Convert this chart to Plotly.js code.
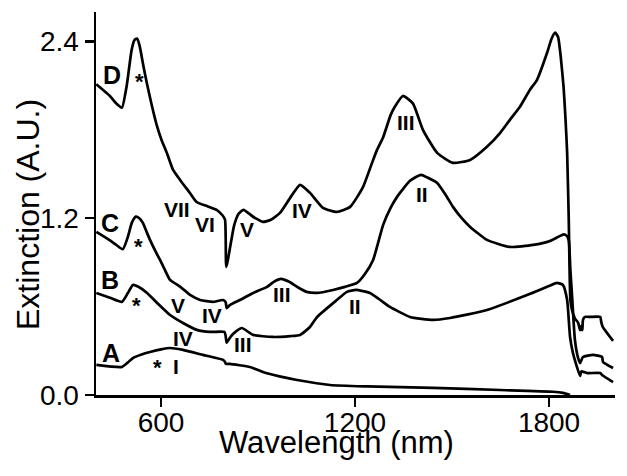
<!DOCTYPE html>
<html><head><meta charset="utf-8">
<script src="https://cdn.plot.ly/plotly-3.0.1.min.js"></script>
<style>html,body{margin:0;padding:0;background:#fff}</style>
</head><body>
<div id="chart" style="width:627px;height:476px"></div>
<script>
// Spectrum A
const wlA  = [400,479,497,513,540,566,600,628,668,730,792,798,801,813,875,915,970,1021,1123,1237,1441,1649,1812,1843,1865];
const extA = [0.204,0.19,0.22,0.251,0.275,0.292,0.31,0.319,0.306,0.272,0.238,0.224,0.211,0.211,0.19,0.156,0.125,0.102,0.068,0.058,0.048,0.034,0.022,0.014,0.0];
// Spectrum B
const wlB  = [400,442,479,497,513,530,557,588,628,668,711,752,796,800,803,815,834,850,885,946,1000,1030,1060,1083,1144,1175,1203,1246,1275,1308,1370,1441,1494,1608,1732,1800,1825,1843,1856,1865,1874,1885,1896,1900,1918,1958,1964,1998];
const extB = [0.693,0.66,0.632,0.69,0.747,0.735,0.693,0.625,0.543,0.489,0.442,0.428,0.428,0.40,0.355,0.395,0.435,0.455,0.408,0.394,0.40,0.408,0.46,0.53,0.645,0.70,0.713,0.693,0.65,0.598,0.53,0.51,0.523,0.577,0.679,0.74,0.761,0.747,0.645,0.394,0.285,0.2,0.13,0.16,0.149,0.149,0.136,0.088];
// Spectrum C
const wlC  = [400,442,461,482,497,510,522,533,544,555,566,582,597,612,628,659,690,721,761,792,800,803,813,844,885,928,950,971,995,1021,1050,1083,1132,1169,1206,1230,1256,1287,1310,1330,1370,1404,1430,1454,1480,1503,1530,1556,1608,1679,1751,1803,1830,1845,1855,1861,1866,1872,1880,1890,1896,1905,1936,1964,1967,1998];
const extC = [1.107,1.05,1.02,0.99,1.07,1.17,1.211,1.20,1.168,1.11,1.053,0.98,0.917,0.85,0.781,0.736,0.679,0.645,0.632,0.645,0.63,0.59,0.611,0.645,0.693,0.734,0.77,0.788,0.77,0.734,0.70,0.693,0.713,0.734,0.761,0.82,0.917,1.155,1.27,1.345,1.454,1.495,1.47,1.44,1.36,1.277,1.20,1.141,1.053,1.005,1.019,1.046,1.075,1.09,1.08,1.05,0.85,0.645,0.374,0.25,0.217,0.258,0.272,0.258,0.224,0.183];
// Spectrum D
const wlD  = [400,421,442,461,479,494,509,518,526,534,545,556,570,587,602,618,637,659,690,710,745,772,790,798,802,826,840,855,885,915,940,968,1000,1030,1061,1101,1144,1185,1225,1250,1268,1287,1310,1324,1348,1379,1410,1454,1503,1556,1608,1649,1679,1710,1741,1763,1794,1808,1819,1828,1836,1845,1851,1856,1861,1866,1871,1880,1890,1896,1900,1903,1905,1911,1927,1958,1962,1966,1998];
const extD = [2.11,2.07,2.03,1.98,1.95,2.10,2.34,2.41,2.42,2.37,2.24,2.12,1.98,1.83,1.73,1.644,1.53,1.46,1.37,1.31,1.28,1.257,1.22,1.19,0.87,1.15,1.23,1.257,1.21,1.175,1.19,1.236,1.34,1.427,1.372,1.27,1.243,1.277,1.413,1.56,1.664,1.75,1.90,1.96,2.03,1.98,1.80,1.644,1.576,1.596,1.685,1.78,1.868,1.957,2.072,2.14,2.323,2.42,2.46,2.43,2.30,2.09,1.87,1.644,1.19,0.645,0.577,0.52,0.49,0.44,0.47,0.44,0.51,0.53,0.53,0.53,0.49,0.462,0.367];

const xTicks = [600,1200,1800];
const yTicks = [0.0,1.2,2.4];
const xTitle = 'Wavelength (nm)';
const yTitle = 'Extinction (A.U.)';

// Peak / curve labels
const labelText = ['D','C','B','A','*','*','*','*','I','IV','V','IV','III','III','VII','VI','V','IV','III','II','II'];
const labelX = [447,442,442,445,533,530,525,590,646,669,654,757,855,973,649,736,865,1035,1358,1408,1200];
const labelY = [2.174,1.166,0.778,0.285,2.167,1.048,0.645,0.226,0.192,0.385,0.605,0.543,0.34,0.679,1.257,1.155,1.121,1.252,1.85,1.359,0.6];

const FONT = 'Liberation Sans, Arial, Helvetica, sans-serif';
const line = {color:'#000', width:2.7, shape:'spline', smoothing:0.5};
const traces = [[wlA,extA],[wlB,extB],[wlC,extC],[wlD,extD]].map(p => ({
  x:p[0], y:p[1], type:'scatter', mode:'lines', line:line, hoverinfo:'skip', showlegend:false
}));

const annotations = labelText.map((t,i) => {
  const letter = /^[A-D]$/.test(t);
  const star = t === '*';
  return {
    x: labelX[i], y: labelY[i], xref:'x', yref:'y', showarrow:false,
    text: '<b>' + t + '</b>',
    xanchor:'center', yanchor:'middle',
    yshift: star ? -6 : 0,
    font: {family: FONT, size: letter ? 25 : (star ? 22 : 21), color:'#000'}
  };
});
// axis titles
annotations.push({
  x:0.464, y:-0.123, xref:'paper', yref:'paper', showarrow:false,
  xanchor:'center', yanchor:'middle', text:xTitle,
  font:{family:FONT, size:31, color:'#000'}
});
annotations.push({
  x:-0.131, y:0.47, xref:'paper', yref:'paper', showarrow:false,
  xanchor:'center', yanchor:'middle', textangle:-90, text:yTitle,
  font:{family:FONT, size:32, color:'#000'}
});

const layout = {
  width:627, height:476,
  margin:{l:96, r:12, t:12, b:81},
  paper_bgcolor:'#fff', plot_bgcolor:'#fff',
  showlegend:false,
  font:{family:FONT, color:'#000'},
  xaxis:{
    range:[399,2004], tickmode:'array', tickvals:xTicks, ticktext:xTicks.map(String),
    showgrid:false, zeroline:false, showline:true, linecolor:'#000', linewidth:2.5,
    ticks:'outside', ticklen:9, tickwidth:2.5, tickcolor:'#000',
    ticklabelstandoff:-8,
    tickfont:{family:FONT, size:28, color:'#000'},
    automargin:false
  },
  yaxis:{
    range:[0,2.6], tickmode:'array', tickvals:yTicks, ticktext:yTicks.map(v=>v.toFixed(1)),
    showgrid:false, zeroline:false, showline:true, linecolor:'#000', linewidth:2.5,
    ticks:'outside', ticklen:9, tickwidth:2.5, tickcolor:'#000',
    tickfont:{family:FONT, size:28, color:'#000'},
    automargin:false
  },
  annotations: annotations
};

Plotly.newPlot('chart', traces, layout, {staticPlot:true, displayModeBar:false});
</script>
</body></html>
